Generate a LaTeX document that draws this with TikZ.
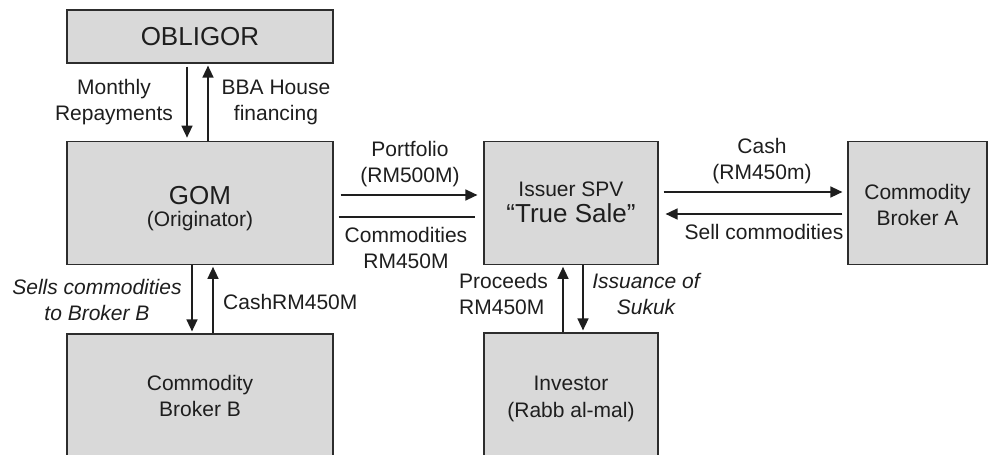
\documentclass[tikz,border=0pt]{standalone}
\usepackage{fontspec}
\setmainfont{Liberation Sans}
\usetikzlibrary{arrows.meta}
\definecolor{boxfill}{RGB}{217,217,217}
\definecolor{boxline}{RGB}{45,45,45}
\definecolor{ink}{RGB}{30,30,30}
\begin{document}
\begin{tikzpicture}[x=1pt,y=-1pt,
  box/.style={draw=boxline,line width=1.2pt,fill=boxfill,inner sep=0pt,align=center,text=ink,font=\fontsize{21}{26}\selectfont},
  arr/.style={draw=ink,line width=1.5pt,-{Triangle[length=12pt,width=11pt]}},
  plainline/.style={draw=ink,line width=1.5pt},
  lbl/.style={font=\fontsize{21}{26}\selectfont,align=center,inner sep=0pt,text=ink}]
\clip (0,0) rectangle (989,455);
\fill[white] (0,0) rectangle (989,455);
% boxes
\node[box,minimum width=266pt,minimum height=53pt] (obligor) at (200,36.5) {\fontsize{26}{30}\selectfont OBLIGOR};
\node[box,minimum width=266pt,minimum height=123pt] (gom) at (200,202.75) {\rule{0pt}{30pt}{\fontsize{26}{30}\selectfont GOM}\\[-4pt](Originator)};
\node[box,minimum width=266pt,minimum height=124pt] (brokerb) at (200,396) {Commodity\\Broker B};
\node[box,minimum width=174pt,minimum height=123pt] (spv) at (571,202.75) {Issuer SPV\\[0pt]{\fontsize{26}{30}\selectfont “True Sale”}};
\node[box,minimum width=139pt,minimum height=123pt] (brokera) at (917.5,202.75) {\rule{0pt}{20pt}Commodity\\Broker A};
\node[box,minimum width=174pt,minimum height=126pt] (investor) at (571,396) {\rule{0pt}{20pt}Investor\\[1pt](Rabb al-mal)};
% obligor - gom
\draw[arr,shorten <=3pt,shorten >=3pt] ([xshift=-13pt]obligor.south) -- ([xshift=-13pt]gom.north);
\draw[arr,shorten >=2pt] ([xshift=8pt]gom.north) -- ([xshift=8pt]obligor.south);
% gom - broker b
\draw[arr,shorten >=2pt] ([xshift=-8pt]gom.south) -- ([xshift=-8pt]brokerb.north);
\draw[arr,shorten >=2pt] ([xshift=13pt]brokerb.north) -- ([xshift=13pt]gom.south);
% gom - spv
\draw[arr,shorten <=7pt,shorten >=6pt] ([yshift=7.75pt]gom.east) -- ([yshift=7.75pt]spv.west);
\draw[plainline,shorten <=5pt,shorten >=8pt] ([yshift=-14.25pt]gom.east) -- ([yshift=-14.25pt]spv.west);
% spv - broker a
\draw[arr,shorten <=5pt,shorten >=5pt] ([yshift=10.75pt]spv.east) -- ([yshift=10.75pt]brokera.west);
\draw[arr,shorten <=5pt,shorten >=7pt] ([yshift=-11.25pt]brokera.west) -- ([yshift=-11.25pt]spv.east);
% spv - investor
\draw[arr,shorten >=2pt] ([xshift=-8pt]investor.north) -- ([xshift=-8pt]spv.south);
\draw[arr,shorten >=2pt] ([xshift=12pt]spv.south) -- ([xshift=12pt]investor.north);
% labels
\node[lbl] (l1) at (114,102) {Monthly\\Repayments};
\node[lbl] (l2) at (276,102) {BBA House\\financing};
\node[lbl,font=\fontsize{21}{26}\selectfont\itshape] (l3) at (97,300) {Sells commodities\\to Broker B};
\node[lbl,anchor=west] (l4) at (223,302) {CashRM450M};
\node[lbl] (l5) at (410,164) {Portfolio\\(RM500M)};
\node[lbl] (l6) at (406,247.5) {Commodities\\RM450M};
\node[lbl] (l7) at (762,161) {Cash\\(RM450m)};
\node[lbl] (l8) at (764,232) {Sell commodities};
\node[lbl,align=left,anchor=west] (l9) at (459,294) {Proceeds\\RM450M};
\node[lbl,font=\fontsize{21}{26}\selectfont\itshape] (l10) at (646,294) {Issuance of\\Sukuk};
\end{tikzpicture}
\end{document}
